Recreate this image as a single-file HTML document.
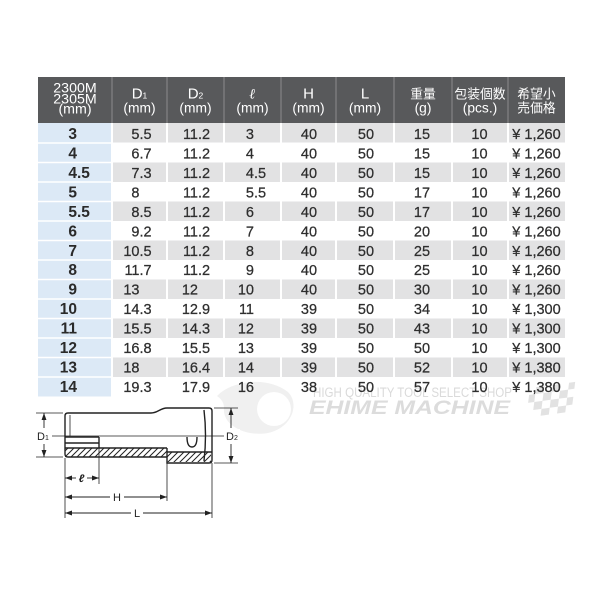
<!DOCTYPE html>
<html><head><meta charset="utf-8"><style>
html,body{margin:0;padding:0;background:#fff;}
svg{display:block;}
.h{font-family:"Liberation Sans","Noto Sans CJK JP",sans-serif;fill:#fff;text-anchor:middle;}
.d{font-family:"Liberation Sans",sans-serif;font-size:14.5px;fill:#2e2e2e;stroke:#2e2e2e;stroke-width:0.25;}
.c{text-anchor:middle;}
.e{text-anchor:end;}
.b{font-family:"Liberation Sans",sans-serif;font-size:15.5px;font-weight:bold;fill:#2a2a2a;}
.lab{font-family:"Liberation Sans",sans-serif;font-size:11px;fill:#222;}
</style></head><body>
<svg width="600" height="600" viewBox="0 0 600 600" xmlns="http://www.w3.org/2000/svg">
<rect width="600" height="600" fill="#fff"/>
<defs>
<pattern id="hat" patternUnits="userSpaceOnUse" width="6" height="6">
<path d="M-1,1 L1,-1 M0,6 L6,0 M5,7 L7,5" stroke="#222" stroke-width="1"/>
</pattern>
<marker id="ar" viewBox="0 0 10 10" refX="10" refY="5" markerWidth="7" markerHeight="7" orient="auto-start-reverse" markerUnits="userSpaceOnUse">
<path d="M0,1.5 L10,5 L0,8.5 Z" fill="#222"/>
</marker>
</defs>

<!-- header -->
<rect x="38" y="77" width="527" height="46" fill="#58595b"/>
<g stroke="#8c8c8e" stroke-width="1">
<line x1="112" y1="77" x2="112" y2="123"/><line x1="167" y1="77" x2="167" y2="123"/>
<line x1="224" y1="77" x2="224" y2="123"/><line x1="281" y1="77" x2="281" y2="123"/>
<line x1="336" y1="77" x2="336" y2="123"/><line x1="394" y1="77" x2="394" y2="123"/>
<line x1="452" y1="77" x2="452" y2="123"/><line x1="508" y1="77" x2="508" y2="123"/>
</g>
<g class="h" font-size="14.2">
<text x="75" y="92.5">2300M</text><text x="75" y="103.5">2305M</text><text x="75" y="113.5">(mm)</text>
</g>
<g class="h" font-size="15">
<text x="139.5" y="98.5">D<tspan font-size="8.5">1</tspan></text>
<text x="195.5" y="98.5">D<tspan font-size="8.5">2</tspan></text>
<text x="252.5" y="98.5" font-family="DejaVu Serif,serif" font-style="italic" font-weight="bold" font-size="14">ℓ</text>
<text x="308.5" y="98.5">H</text>
<text x="365" y="98.5">L</text>
</g>
<g class="h" font-size="13.8">
<text x="139.5" y="112.5">(mm)</text><text x="195.5" y="112.5">(mm)</text><text x="252.5" y="112.5">(mm)</text>
<text x="308.5" y="112.5">(mm)</text><text x="365" y="112.5">(mm)</text>
<text x="423" y="112.5">(g)</text><text x="480" y="112.5">(pcs.)</text>
</g>
<g class="h" font-size="12.8">
<text x="423" y="98.5">重量</text><text x="480" y="98.5">包装個数</text>
<text x="536.5" y="98.5">希望小</text><text x="536.5" y="112.5">売価格</text>
</g>

<!-- body -->
<rect x="38" y="123" width="74" height="273.5" fill="#dce9f6"/>
<g fill="#e2e2e3">
<rect x="112" y="123" width="453" height="19.5"/>
<rect x="112" y="162.5" width="453" height="19.5"/>
<rect x="112" y="201.5" width="453" height="19.5"/>
<rect x="112" y="240.5" width="453" height="19.5"/>
<rect x="112" y="279.5" width="453" height="19.5"/>
<rect x="112" y="318.5" width="453" height="19.5"/>
<rect x="112" y="357.5" width="453" height="19.5"/>
</g>
<g stroke="#fff" stroke-width="2">
<line x1="112" y1="123" x2="112" y2="397"/><line x1="167" y1="123" x2="167" y2="397"/>
<line x1="224" y1="123" x2="224" y2="397"/><line x1="281" y1="123" x2="281" y2="397"/>
<line x1="336" y1="123" x2="336" y2="397"/><line x1="394" y1="123" x2="394" y2="397"/>
<line x1="452" y1="123" x2="452" y2="397"/><line x1="508" y1="123" x2="508" y2="397"/>
</g>
<g stroke="#fff" stroke-width="1.5">
<line x1="38" x2="112" y1="143" y2="143"/><line x1="38" x2="112" y1="162.5" y2="162.5"/>
<line x1="38" x2="112" y1="182" y2="182"/><line x1="38" x2="112" y1="201.5" y2="201.5"/>
<line x1="38" x2="112" y1="221" y2="221"/><line x1="38" x2="112" y1="240.5" y2="240.5"/>
<line x1="38" x2="112" y1="260" y2="260"/><line x1="38" x2="112" y1="279.5" y2="279.5"/>
<line x1="38" x2="112" y1="299" y2="299"/><line x1="38" x2="112" y1="318.5" y2="318.5"/>
<line x1="38" x2="112" y1="338" y2="338"/><line x1="38" x2="112" y1="357.5" y2="357.5"/>
<line x1="38" x2="112" y1="377" y2="377"/>
</g>

<!-- watermark -->
<g opacity="0.55">
<path d="M217,396 C232,380 268,376 288,392 C300,404 292,428 268,433 C245,437 222,425 224,408 C224,402 221,399 217,396 Z" fill="#e4e4e4"/>
<circle cx="274" cy="409" r="17" fill="#fff"/>
</g>
<text x="313" y="397" font-family="Liberation Sans,sans-serif" font-size="13.5" fill="#dadada" textLength="199" lengthAdjust="spacingAndGlyphs">HIGH QUALITY TOOL SELECT SHOP</text>
<text x="309" y="414" font-family="Liberation Sans,sans-serif" font-size="19" font-weight="bold" font-style="italic" fill="#dcdcdc" textLength="201" lengthAdjust="spacingAndGlyphs">EHIME MACHINE</text>
<g fill="#e2e2e2" transform="translate(530,388) skewX(-15) rotate(-8)">
<rect x="6" y="0" width="8" height="7"/><rect x="22" y="0" width="8" height="7"/><rect x="38" y="0" width="6" height="7"/>
<rect x="0" y="7" width="6" height="8"/><rect x="14" y="7" width="8" height="8"/><rect x="30" y="7" width="8" height="8"/>
<rect x="6" y="15" width="8" height="8"/><rect x="22" y="15" width="8" height="8"/><rect x="38" y="15" width="6" height="8"/>
<rect x="14" y="23" width="8" height="7"/><rect x="30" y="23" width="8" height="7"/>
</g>

<!-- first column -->
<g class="b e">
<text x="77" y="139">3</text><text x="77" y="158.5">4</text><text x="77" y="177.9">4</text>
<text x="77" y="197.4">5</text><text x="77" y="216.8">5</text><text x="77" y="236.3">6</text>
<text x="77" y="255.8">7</text><text x="77" y="275.2">8</text><text x="77" y="294.7">9</text>
<text x="77" y="314.1">10</text><text x="77" y="333.6">11</text><text x="77" y="353.1">12</text>
<text x="77" y="372.5">13</text><text x="77" y="392">14</text>
</g>
<g class="b"><text x="77" y="177.9">.5</text><text x="77" y="216.8">.5</text></g>

<!-- D1 -->
<g class="d e">
<text x="139.5" y="139">5</text><text x="139.5" y="158.5">6</text><text x="139.5" y="177.9">7</text>
<text x="139.5" y="197.4">8</text><text x="139.5" y="216.8">8</text><text x="139.5" y="236.3">9</text>
<text x="139.5" y="255.8">10</text><text x="139.5" y="275.2">11</text><text x="139.5" y="294.7">13</text>
<text x="139.5" y="314.1">14</text><text x="139.5" y="333.6">15</text><text x="139.5" y="353.1">16</text>
<text x="139.5" y="372.5">18</text><text x="139.5" y="392">19</text>
</g>
<g class="d">
<text x="139.5" y="139">.5</text><text x="139.5" y="158.5">.7</text><text x="139.5" y="177.9">.3</text>
<text x="139.5" y="216.8">.5</text><text x="139.5" y="236.3">.2</text>
<text x="139.5" y="255.8">.5</text><text x="139.5" y="275.2">.7</text>
<text x="139.5" y="314.1">.3</text><text x="139.5" y="333.6">.5</text><text x="139.5" y="353.1">.8</text>
<text x="139.5" y="392">.3</text>
</g>

<!-- D2 -->
<g class="d e">
<text x="198" y="139">11</text><text x="198" y="158.5">11</text><text x="198" y="177.9">11</text>
<text x="198" y="197.4">11</text><text x="198" y="216.8">11</text><text x="198" y="236.3">11</text>
<text x="198" y="255.8">11</text><text x="198" y="275.2">11</text><text x="198" y="294.7">12</text>
<text x="198" y="314.1">12</text><text x="198" y="333.6">14</text><text x="198" y="353.1">15</text>
<text x="198" y="372.5">16</text><text x="198" y="392">17</text>
</g>
<g class="d">
<text x="198" y="139">.2</text><text x="198" y="158.5">.2</text><text x="198" y="177.9">.2</text>
<text x="198" y="197.4">.2</text><text x="198" y="216.8">.2</text><text x="198" y="236.3">.2</text>
<text x="198" y="255.8">.2</text><text x="198" y="275.2">.2</text>
<text x="198" y="314.1">.9</text><text x="198" y="333.6">.3</text><text x="198" y="353.1">.5</text>
<text x="198" y="372.5">.4</text><text x="198" y="392">.9</text>
</g>

<!-- l -->
<g class="d e">
<text x="254" y="139">3</text><text x="254" y="158.5">4</text><text x="254" y="177.9">4</text>
<text x="254" y="197.4">5</text><text x="254" y="216.8">6</text><text x="254" y="236.3">7</text>
<text x="254" y="255.8">8</text><text x="254" y="275.2">9</text><text x="254" y="294.7">10</text>
<text x="254" y="314.1">11</text><text x="254" y="333.6">12</text><text x="254" y="353.1">13</text>
<text x="254" y="372.5">14</text><text x="254" y="392">16</text>
</g>
<g class="d"><text x="254" y="177.9">.5</text><text x="254" y="197.4">.5</text></g>

<!-- H, L, g, pcs, price -->
<g class="d c">
<text x="309" y="139">40</text><text x="309" y="158.5">40</text><text x="309" y="177.9">40</text>
<text x="309" y="197.4">40</text><text x="309" y="216.8">40</text><text x="309" y="236.3">40</text>
<text x="309" y="255.8">40</text><text x="309" y="275.2">40</text><text x="309" y="294.7">40</text>
<text x="309" y="314.1">39</text><text x="309" y="333.6">39</text><text x="309" y="353.1">39</text>
<text x="309" y="372.5">39</text><text x="309" y="392">38</text>

<text x="366" y="139">50</text><text x="366" y="158.5">50</text><text x="366" y="177.9">50</text>
<text x="366" y="197.4">50</text><text x="366" y="216.8">50</text><text x="366" y="236.3">50</text>
<text x="366" y="255.8">50</text><text x="366" y="275.2">50</text><text x="366" y="294.7">50</text>
<text x="366" y="314.1">50</text><text x="366" y="333.6">50</text><text x="366" y="353.1">50</text>
<text x="366" y="372.5">50</text><text x="366" y="392">50</text>

<text x="422" y="139">15</text><text x="422" y="158.5">15</text><text x="422" y="177.9">15</text>
<text x="422" y="197.4">17</text><text x="422" y="216.8">17</text><text x="422" y="236.3">20</text>
<text x="422" y="255.8">25</text><text x="422" y="275.2">25</text><text x="422" y="294.7">30</text>
<text x="422" y="314.1">34</text><text x="422" y="333.6">43</text><text x="422" y="353.1">50</text>
<text x="422" y="372.5">52</text><text x="422" y="392">57</text>

<text x="479.5" y="139">10</text><text x="479.5" y="158.5">10</text><text x="479.5" y="177.9">10</text>
<text x="479.5" y="197.4">10</text><text x="479.5" y="216.8">10</text><text x="479.5" y="236.3">10</text>
<text x="479.5" y="255.8">10</text><text x="479.5" y="275.2">10</text><text x="479.5" y="294.7">10</text>
<text x="479.5" y="314.1">10</text><text x="479.5" y="333.6">10</text><text x="479.5" y="353.1">10</text>
<text x="479.5" y="372.5">10</text><text x="479.5" y="392">10</text>

<text x="536.5" y="139">¥ 1,260</text><text x="536.5" y="158.5">¥ 1,260</text><text x="536.5" y="177.9">¥ 1,260</text>
<text x="536.5" y="197.4">¥ 1,260</text><text x="536.5" y="216.8">¥ 1,260</text><text x="536.5" y="236.3">¥ 1,260</text>
<text x="536.5" y="255.8">¥ 1,260</text><text x="536.5" y="275.2">¥ 1,260</text><text x="536.5" y="294.7">¥ 1,260</text>
<text x="536.5" y="314.1">¥ 1,300</text><text x="536.5" y="333.6">¥ 1,300</text><text x="536.5" y="353.1">¥ 1,300</text>
<text x="536.5" y="372.5">¥ 1,380</text><text x="536.5" y="392">¥ 1,380</text>
</g>

<!-- diagram -->
<rect x="65" y="448" width="102" height="9" fill="url(#hat)"/>
<rect x="167" y="452" width="44" height="10" fill="url(#hat)"/>
<g fill="none" stroke="#222" stroke-width="1.4">
<path d="M68,413 L151,413 C158,413 160,408 167,408 L209,408 Q212,408 212,411 L212,460 Q212,463 209,463 L167,463 L167,457 L68,457 Q65,457 65,454 L65,416 Q65,413 68,413 Z"/>
<line x1="99" y1="448" x2="167" y2="448"/>
<line x1="167" y1="452" x2="212" y2="452"/>
<line x1="167" y1="448" x2="167" y2="457"/>
<line x1="65" y1="437" x2="99" y2="437"/>
<line x1="65" y1="443" x2="99" y2="443"/>
<line x1="65" y1="448" x2="99" y2="448"/>
<line x1="99" y1="437" x2="99" y2="448"/>
<path d="M204,410 Q207,435 204,461"/>
<path d="M187,437 Q187,447 192,447 Q197,447 197,437"/>
</g>
<g stroke="#222" stroke-width="0.8" fill="none">
<line x1="70" y1="415" x2="70" y2="436"/>
<line x1="50" y1="436" x2="225" y2="436"/>
<line x1="36" y1="413" x2="63" y2="413"/><line x1="36" y1="457" x2="63" y2="457"/>
<line x1="214" y1="408" x2="238" y2="408"/><line x1="214" y1="463" x2="238" y2="463"/>
<line x1="65" y1="458" x2="65" y2="518"/>
<line x1="99" y1="448" x2="99" y2="484"/>
<line x1="167" y1="463" x2="167" y2="501"/>
<line x1="212" y1="463" x2="212" y2="518"/>
</g>
<rect x="36" y="429" width="16" height="14" fill="#fff"/>
<rect x="224" y="429" width="16" height="14" fill="#fff"/>
<g stroke="#222" stroke-width="0.9" fill="none">
<line x1="44" y1="428" x2="44" y2="413" marker-end="url(#ar)"/>
<line x1="44" y1="444" x2="44" y2="457" marker-end="url(#ar)"/>
<line x1="231" y1="428" x2="231" y2="408" marker-end="url(#ar)"/>
<line x1="231" y1="444" x2="231" y2="463" marker-end="url(#ar)"/>
<line x1="76" y1="478" x2="65" y2="478" marker-end="url(#ar)"/>
<line x1="87" y1="478" x2="99" y2="478" marker-end="url(#ar)"/>
<line x1="110" y1="497" x2="65" y2="497" marker-end="url(#ar)"/>
<line x1="124" y1="497" x2="167" y2="497" marker-end="url(#ar)"/>
<line x1="131" y1="513" x2="65" y2="513" marker-end="url(#ar)"/>
<line x1="143" y1="513" x2="212" y2="513" marker-end="url(#ar)"/>
</g>
<text class="lab" x="37" y="440">D<tspan font-size="7">1</tspan></text>
<text class="lab" x="226" y="440">D<tspan font-size="7">2</tspan></text>
<text class="lab" x="81.5" y="482" text-anchor="middle" font-style="italic" font-weight="bold" font-family="DejaVu Serif,serif" font-size="10">ℓ</text>
<text class="lab" x="117" y="501" text-anchor="middle" font-size="12">H</text>
<text class="lab" x="137" y="517" text-anchor="middle" font-size="12">L</text>
</svg>
</body></html>
